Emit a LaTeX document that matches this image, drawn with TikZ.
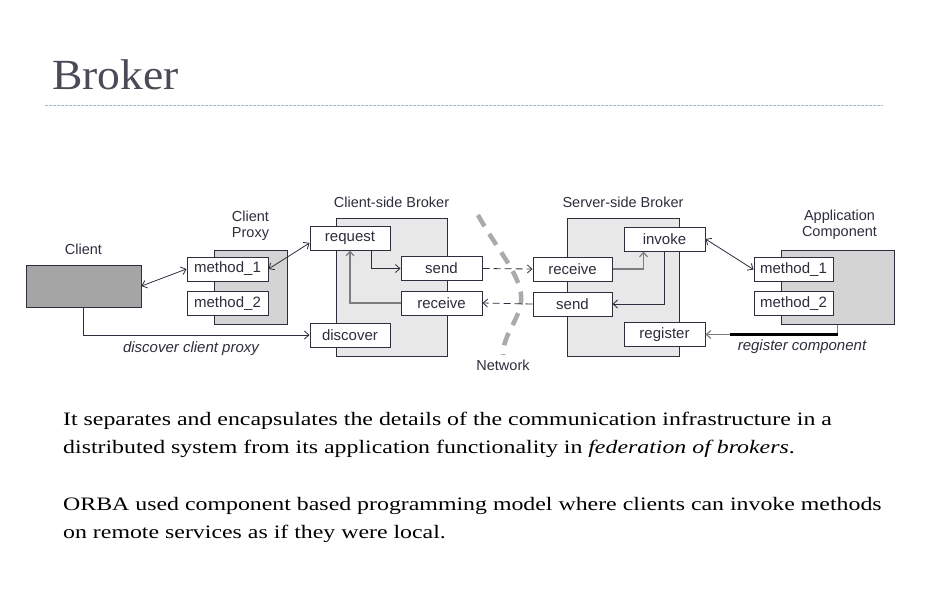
\documentclass[tikz,border=0pt]{standalone}
\usepackage{fontspec}
\setmainfont{Liberation Serif}
\setsansfont{Liberation Sans}
\newfontfamily\bodyfont{Liberation Serif}[FakeStretch=1.255]
\newfontfamily\headfont{Liberation Serif}[FakeStretch=1.06]
\usetikzlibrary{shapes,arrows,arrows.meta,fit,positioning}
\definecolor{titlegray}{RGB}{74,74,88}
\definecolor{rulebl}{RGB}{150,190,215}
\definecolor{inkd}{RGB}{45,45,60}
\definecolor{clientgray}{RGB}{165,165,165}
\definecolor{proxygray}{RGB}{212,212,212}
\definecolor{brokergray}{RGB}{232,232,232}
\definecolor{netgray}{RGB}{170,170,170}
\definecolor{linegray}{RGB}{125,125,125}
\def\Diag{\sffamily\fontsize{15}{17}\selectfont}

\begin{document}
\begin{tikzpicture}[x=1pt,y=-1pt,% one unit = one pixel of the slide, y runs down
		>={Straight Barb[length=4.5pt,width=8pt]},
		every node/.style={
			align=center,	% so that "\\" breaks the line
			inner sep=0pt,
			text=inkd
		},
		box/.style={rectangle,draw=inkd,line width=1pt,fill=white,minimum height=24,font=\Diag},
		frame/.style={rectangle,draw=inkd,line width=1pt},
		lbl/.style={font=\sffamily\fontsize{14.5}{16}\selectfont},
		note/.style={font=\sffamily\itshape\fontsize{15}{17}\selectfont},
		every edge/.style={draw,line width=0.8pt,inkd},
		gline/.style={draw=linegray,line width=1.2pt}
	]
	\useasboundingbox (0,0) rectangle (929,590);
	% title
	\node[anchor=base west,font=\headfont\fontsize{43}{43}\selectfont,text=titlegray](T) at (52,89){Broker};
	\draw[rulebl,line width=0.8pt,dash pattern=on 2.5pt off 1.5pt] (45,105) -- (883,105);
	% big boxes first
	\node[frame,fill=clientgray,minimum width=115,minimum height=42](Cl) at (83.5,286){};
	\node[frame,fill=proxygray,minimum width=73,minimum height=74](Px) at (250.5,287){};
	\node[frame,fill=brokergray,minimum width=111,minimum height=138](Cb) at (391.5,287){};
	\node[frame,fill=brokergray,minimum width=112,minimum height=138](Sb) at (623,287){};
	\node[frame,fill=proxygray,minimum width=113,minimum height=74](Ap) at (837.5,287){};
	% inner boxes
	\node[box,minimum width=81](Pm1) at (227.5,269){method\_1};
	\node[box,minimum width=81](Pm2) at (227.5,303.5){method\_2};
	\node[box,minimum width=80](Req) at (350,238){request};
	\node[box,minimum width=81](Snd1) at (441.5,268.5){send};
	\node[box,minimum width=81](Rcv1) at (441.5,303){receive};
	\node[box,minimum width=80](Dsc) at (350,335){discover};
	\node[box,minimum width=79](Rcv2) at (572.5,269){receive};
	\node[box,minimum width=79](Snd2) at (572.5,304){send};
	\node[box,minimum width=81](Inv) at (664.5,239){invoke};
	\node[box,minimum width=81](Reg) at (664.5,334.5){register};
	\node[box,minimum width=79](Am1) at (793.5,269.5){method\_1};
	\node[box,minimum width=79](Am2) at (793.5,303.5){method\_2};
	% labels
	\node[lbl](LCl)[above=10pt of Cl]{Client};
	\node[lbl](LPx)[above=9pt of Px]{Client\\Proxy};
	\node[lbl](LCb)[above=10pt of Cb]{Client-side Broker};
	\node[lbl](LSb)[above=10pt of Sb]{Server-side Broker};
	\node[lbl](LAp)[above=10pt of Ap,xshift=2pt]{Application\\Component};
	\node[note](LDsc) at (191,349){discover client proxy};
	\node[note](LReg) at (802,347){register component};
	% network
	\coordinate (N1) at (478,215);
	\coordinate (N2) at (503,355);
	\draw[netgray,line width=4.5pt,dash pattern=on 13pt off 9pt]
		(N1) .. controls (497,250) and (524,278) .. (521,302) .. controls (518,322) and (503,335) .. (N2);
	\node[lbl](LN)[below=5pt of N2]{Network};
	% connectors
	\path[<->]
		(Cl.east) edge [] (Pm1.west)
		(Pm1.east) edge [] ([yshift=-5pt]Req.west)
		(Inv.east) edge [] (Am1.west)
		;
	\path[->]
		(Snd1.east) edge [dash pattern=on 7pt off 4pt] (Rcv2.west)
		(Snd2.west) edge [dash pattern=on 7pt off 4pt] (Rcv1.east)
		;
	\draw[->,inkd,line width=0.8pt] (Cl.south) |- (Dsc.west);
	\draw[->,inkd,line width=0.8pt] ([xshift=21pt]Req.south) |- (Snd1.west);
	\draw[->,gline] (Rcv1.west) -| (Req.south);
	\draw[->,gline] (Rcv2.east) -| ([xshift=-21pt]Inv.south);
	\draw[->,inkd,line width=0.8pt] (Inv.south) |- (Snd2.east);
	\coordinate (RB) at (Ap.south |- Reg.east);
	\draw[->,gline] (Ap.south) |- (Reg.east);
	\draw[black,line width=2.5pt] (RB) -- ([xshift=24pt]Reg.east);
	% text
	\node[anchor=base west,align=left,font=\bodyfont\fontsize{19}{28}\selectfont,text=black](P1) at (63,453)
		{It separates and encapsulates the details of the communication infrastructure in a\\
		distributed system from its application functionality in \textit{federation of brokers}.};
	\node[anchor=base west,align=left,font=\bodyfont\fontsize{19}{28}\selectfont,text=black](P2) at (63,538)
		{ORBA used component based programming model where clients can invoke methods\\
		on remote services as if they were local.};
\end{tikzpicture}
\end{document}
